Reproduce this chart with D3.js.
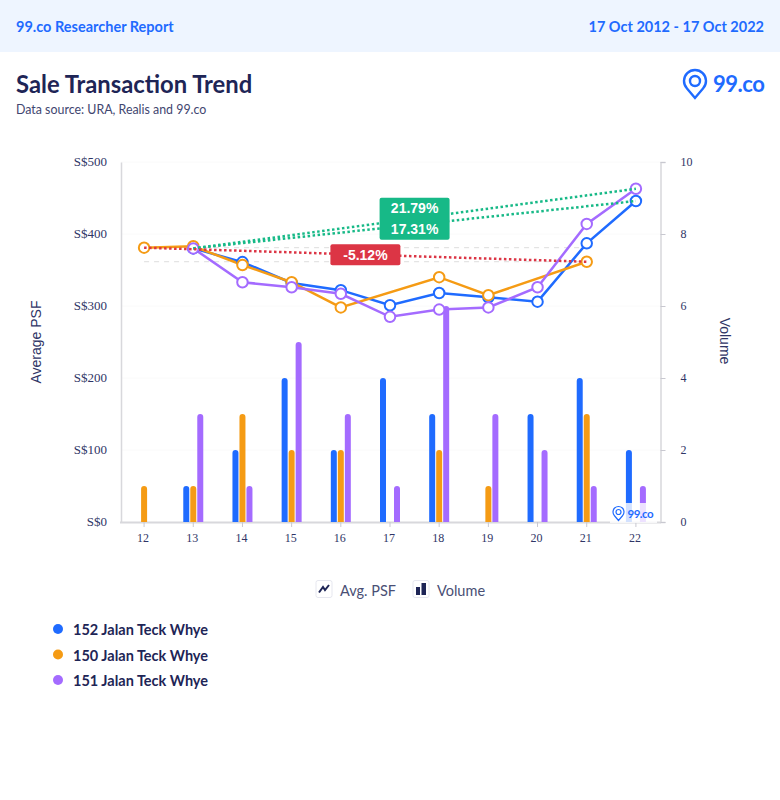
<!DOCTYPE html>
<html>
<head>
<meta charset="utf-8">
<script src="https://cdn.jsdelivr.net/npm/d3@7"></script>
<style>
  body { margin: 0; background: #fff; }
  text { font-family: Lato, sans-serif; }
  .tick text { font-family: "Liberation Serif", serif; font-size: 12px; fill: #2f3566; }
</style>
</head>
<body>
<div id="chart"></div>
<script>
// Chart data
const years = ["12", "13", "14", "15", "16", "17", "18", "19", "20", "21", "22"];
const psfTicks = [0, 100, 200, 300, 400, 500];
const volumeTicks = [0, 2, 4, 6, 8, 10];

const seriesNames = ["152 Jalan Teck Whye", "150 Jalan Teck Whye", "151 Jalan Teck Whye"];
const seriesColors = ["#1f6bff", "#f59b14", "#a46bff"];

const psf152 = [null, 380, 361, 332, 322, 301, 318, 312, 306, 387, 445.8];
const psf150 = [381, 383, 357, 333, 298, null, 340, 315, null, 361.5, null];
const psf151 = [null, 380, 333, 326, 317, 285, 295, 298, 326, 414, 462.8];

const volume152 = [0, 1, 2, 4, 2, 4, 3, 0, 3, 4, 2];
const volume150 = [1, 1, 3, 2, 2, 0, 2, 1, 0, 3, 0];
const volume151 = [0, 3, 1, 5, 3, 1, 6, 3, 2, 1, 1];

const allPsf = [psf152, psf150, psf151];
const allVolume = [volume152, volume150, volume151];

// Trend labels: series index and text
const greenTrends = [2, 0];
const greenLabels = ["21.79%", "17.31%"];
const redTrends = [1];
const redLabels = ["-5.12%"];

const navy = "#1e2556";
const blue = "#1f6bff";

const svg = d3.select("#chart")
    .append("svg")
    .attr("width", 780)
    .attr("height", 800)
    .style("display", "block");

// Header band
svg.append("rect")
    .attr("width", 780)
    .attr("height", 52)
    .attr("fill", "#eef5ff");

svg.append("text")
    .attr("x", 16)
    .attr("y", 32)
    .attr("font-size", 14.5)
    .attr("font-weight", 700)
    .attr("fill", blue)
    .text("99.co Researcher Report");

svg.append("text")
    .attr("x", 764)
    .attr("y", 32)
    .attr("text-anchor", "end")
    .attr("font-size", 14.5)
    .attr("font-weight", 700)
    .attr("fill", blue)
    .text("17 Oct 2012 - 17 Oct 2022");

// Title
svg.append("text")
    .attr("x", 16)
    .attr("y", 93)
    .attr("font-size", 23.8)
    .attr("font-weight", 700)
    .attr("fill", navy)
    .text("Sale Transaction Trend");

svg.append("text")
    .attr("x", 16)
    .attr("y", 114)
    .attr("font-size", 12.4)
    .attr("fill", "#3f4670")
    .text("Data source: URA, Realis and 99.co");

// Pin shaped logo mark, used twice
function drawLogo(g, s, fontSize) {
    g.append("path")
        .attr("d", `M0 ${28 * s} L${-8 * s} ${18.5 * s} A${11 * s} ${11 * s} 0 1 1 ${8 * s} ${18.5 * s} Z`)
        .attr("fill", "none")
        .attr("stroke", blue)
        .attr("stroke-width", 2.4 * s);
    g.append("circle")
        .attr("cy", 11 * s)
        .attr("r", 5 * s)
        .attr("fill", "none")
        .attr("stroke", blue)
        .attr("stroke-width", 2.4 * s);
    g.append("text")
        .attr("x", 18 * s)
        .attr("y", 22 * s)
        .attr("font-size", fontSize)
        .attr("font-weight", 700)
        .attr("letter-spacing", -0.5)
        .attr("fill", blue)
        .text("99.co");
}

drawLogo(svg.append("g").attr("transform", "translate(695, 70)"), 1, 22);

// Plot area
const margin = { top: 162, right: 120, bottom: 278, left: 121 };
const width = 780 - margin.left - margin.right;
const height = 800 - margin.top - margin.bottom;

const plot = svg.append("g")
    .attr("transform", `translate(${margin.left}, ${margin.top})`);

const x = d3.scaleBand()
    .domain(years)
    .range([-1.5, width + 0.5]);

const yPsf = d3.scaleLinear().domain([0, 500]).range([height, 0]);
const yVolume = d3.scaleLinear().domain([0, 10]).range([height, 0]);

const xMid = i => x(years[i]) + x.bandwidth() / 2;

// Faint grid lines
plot.selectAll(".grid")
    .data(psfTicks.slice(1))
    .enter()
    .append("line")
    .attr("x1", 0)
    .attr("x2", width)
    .attr("y1", d => yPsf(d))
    .attr("y2", d => yPsf(d))
    .attr("stroke", "#fafafa");

// Axes
const axisBottom = plot.append("g")
    .attr("transform", `translate(0, ${height})`)
    .call(d3.axisBottom(x).tickSize(5).tickSizeOuter(0).tickPadding(6));

axisBottom.selectAll(".tick text").attr("dx", -1);

const axisLeft = plot.append("g")
    .call(d3.axisLeft(yPsf).tickValues(psfTicks).tickSize(0).tickPadding(14).tickFormat(d => "S$" + d));

axisLeft.selectAll(".tick text")
    .style("font-size", "13px")
    .attr("y", -1);

const axisRight = plot.append("g")
    .attr("transform", `translate(${width + 0.5}, 0)`)
    .call(d3.axisRight(yVolume).tickValues(volumeTicks).tickSize(5).tickPadding(15));

[axisBottom, axisLeft, axisRight].forEach(a => {
    a.select(".domain").attr("stroke", "#d8d8dc");
    a.selectAll("line").attr("stroke", "#c8c8d0");
});
axisBottom.select(".domain").attr("stroke-width", 2);
axisLeft.select(".domain").attr("stroke-width", 1.5);
axisRight.select(".domain").attr("stroke-width", 1.5);

// Axis titles
svg.append("text")
    .attr("transform", "translate(41, 342) rotate(-90)")
    .attr("text-anchor", "middle")
    .style("font-family", "'Liberation Sans', sans-serif")
    .attr("font-size", 14)
    .attr("fill", "#2f3566")
    .text("Average PSF");

svg.append("text")
    .attr("transform", "translate(720, 341) rotate(90)")
    .attr("text-anchor", "middle")
    .style("font-family", "'Liberation Sans', sans-serif")
    .attr("font-size", 14)
    .attr("fill", "#2f3566")
    .text("Volume");

// Grouped bars with rounded tops
const barW = 6;
const barOffset = [-7, 0, 7];
allVolume.forEach((values, s) => {
    plot.selectAll(".bar" + s)
        .data(values.map((v, i) => ({ v, i })).filter(d => d.v > 0))
        .enter()
        .append("path")
        .attr("d", d => {
            const l = xMid(d.i) + barOffset[s] - barW / 2;
            const top = yVolume(d.v);
            return `M${l} ${height} V${top + 3} A3 3 0 0 1 ${l + barW} ${top + 3} V${height} Z`;
        })
        .attr("fill", seriesColors[s]);
});

// Reference lines at the start and end value of the red trend
[psf150[0], psf150[9]].forEach(v => {
    plot.append("line")
        .attr("x1", xMid(0))
        .attr("x2", xMid(9))
        .attr("y1", yPsf(v))
        .attr("y2", yPsf(v))
        .attr("stroke", "#dddddd")
        .attr("stroke-dasharray", "5 5");
});

// Price lines
const line = d3.line()
    .x(d => xMid(d.i))
    .y(d => yPsf(d.v));

allPsf.forEach((values, s) => {
    const points = values.map((v, i) => ({ v, i })).filter(d => d.v !== null);
    plot.append("path")
        .datum(points)
        .attr("fill", "none")
        .attr("stroke", seriesColors[s])
        .attr("stroke-width", 2.5)
        .attr("d", line);
});

// Point markers go over the lines
[0, 1, 2].forEach(s => {
    plot.selectAll(".dot" + s)
        .data(allPsf[s].map((v, i) => ({ v, i })).filter(d => d.v !== null))
        .enter()
        .append("circle")
        .attr("cx", d => xMid(d.i))
        .attr("cy", d => yPsf(d.v))
        .attr("r", 5.25)
        .attr("fill", "#fff")
        .attr("stroke", seriesColors[s])
        .attr("stroke-width", 2);
});

// Dotted first-to-last trend lines, on top of the markers
function trendEnds(s) {
    const points = allPsf[s].map((v, i) => ({ v, i })).filter(d => d.v !== null);
    return [points[0], points[points.length - 1]];
}

function drawTrend(s, color) {
    plot.append("path")
        .datum(trendEnds(s))
        .attr("fill", "none")
        .attr("stroke", color)
        .attr("stroke-width", 2.5)
        .attr("stroke-dasharray", "2.5 2.5")
        .attr("d", line);
}
greenTrends.forEach(s => drawTrend(s, "#17b987"));
redTrends.forEach(s => drawTrend(s, "#dc3545"));

// Percent badges sit on the middle of their trend lines
function drawBadge(trends, labels, color, boxW, rowH) {
    const cx = d3.mean(trends, s => { const e = trendEnds(s); return (xMid(e[0].i) + xMid(e[1].i)) / 2; });
    const cy = d3.mean(trends, s => { const e = trendEnds(s); return (yPsf(e[0].v) + yPsf(e[1].v)) / 2; });
    const boxH = rowH * labels.length;
    const top = labels.length > 1 ? cy - boxH / 2 - 3 : cy - boxH / 2;
    plot.append("rect")
        .attr("x", cx - boxW / 2)
        .attr("y", top)
        .attr("width", boxW)
        .attr("height", boxH)
        .attr("rx", 2)
        .attr("fill", color);
    labels.forEach((label, i) => {
        plot.append("text")
            .attr("x", cx)
            .attr("y", top + rowH * i + rowH / 2 + 5)
            .attr("text-anchor", "middle")
            .style("font-family", "'Liberation Sans', sans-serif")
            .attr("font-size", 14)
            .attr("font-weight", 700)
            .attr("fill", "#fff")
            .text(label);
    });
}
drawBadge(greenTrends, greenLabels, "#17b987", 70, 21);
drawBadge(redTrends, redLabels, "#dc3545", 70, 21);

// Watermark over the corner of the plot
svg.append("rect")
    .attr("x", 610)
    .attr("y", 503)
    .attr("width", 47)
    .attr("height", 20)
    .attr("fill", "#fff")
    .attr("fill-opacity", 0.8);
drawLogo(svg.append("g").attr("transform", "translate(618.5, 506.5)"), 0.5, 11.5);

// Type legend
const typeLegend = svg.append("g").attr("transform", "translate(0, 591)");

function legendBox(px) {
    typeLegend.append("rect")
        .attr("x", px)
        .attr("y", -10.5)
        .attr("width", 16)
        .attr("height", 17)
        .attr("rx", 2)
        .attr("fill", "#fff")
        .attr("stroke", "#e6e7ef");
}

legendBox(316);
typeLegend.append("path")
    .attr("d", "M319 1.5 L323 -4 L325 -1 L329 -6")
    .attr("fill", "none")
    .attr("stroke", navy)
    .attr("stroke-width", 2);
typeLegend.append("text")
    .attr("x", 340)
    .attr("y", 5)
    .attr("font-size", 14.5)
    .attr("fill", "#4a4f75")
    .text("Avg. PSF");

legendBox(413);
typeLegend.append("rect").attr("x", 416).attr("y", -4).attr("width", 4).attr("height", 8).attr("fill", navy);
typeLegend.append("rect").attr("x", 421.5).attr("y", -8).attr("width", 4.5).attr("height", 12).attr("fill", navy);
typeLegend.append("text")
    .attr("x", 437)
    .attr("y", 5)
    .attr("font-size", 14.5)
    .attr("fill", "#4a4f75")
    .text("Volume");

// Series legend
const legend = svg.selectAll(".legendRow")
    .data(seriesNames)
    .enter()
    .append("g")
    .attr("transform", (d, i) => `translate(58, ${629 + i * 25.5})`);

legend.append("circle")
    .attr("r", 5)
    .attr("fill", (d, i) => seriesColors[i]);

legend.append("text")
    .attr("x", 15)
    .attr("y", 6)
    .attr("font-size", 14.5)
    .attr("font-weight", 700)
    .attr("fill", navy)
    .text(d => d);
</script>
</body>
</html>
